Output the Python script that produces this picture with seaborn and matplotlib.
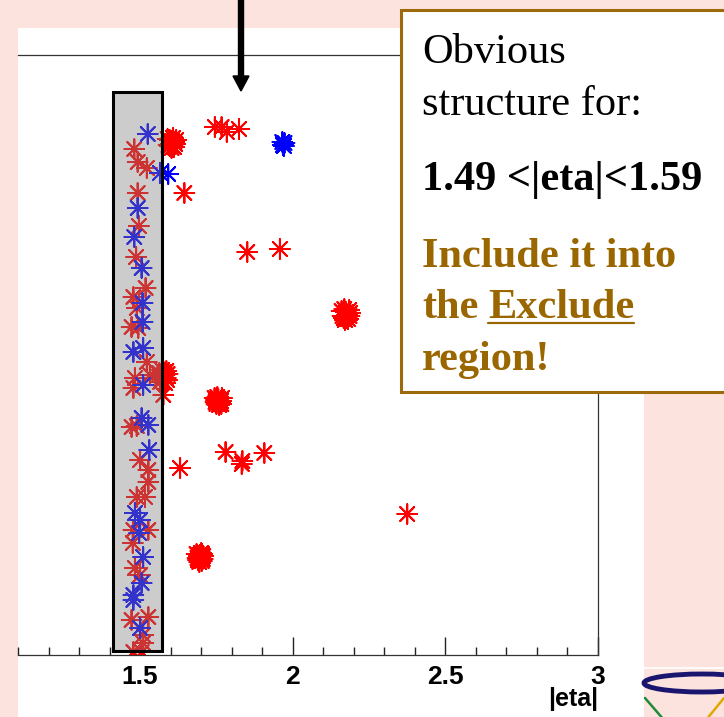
import matplotlib
matplotlib.use("Agg")
import matplotlib.pyplot as plt
import matplotlib.transforms as mtransforms
from matplotlib.patches import Rectangle, FancyArrow, Ellipse
from matplotlib.lines import Line2D
from matplotlib.ticker import FixedLocator, MultipleLocator
import numpy as np
import pandas as pd
import seaborn as sns

# ---------------- data ----------------
# isolated red hits (|eta|, arbitrary vertical coordinate)
red_eta = [1.481, 1.492, 1.522, 1.492, 1.496, 1.487, 1.518, 1.478, 1.489, 1.472,
           1.494, 1.522, 1.483, 1.532, 1.478, 1.472, 1.489, 1.500, 1.527, 1.527,
           1.489, 1.516, 1.478, 1.527, 1.476, 1.483, 1.500, 1.472, 1.527, 1.510,
           1.510, 1.478, 1.505,
           1.645, 1.631, 1.576, 1.745, 1.767, 1.784, 1.824, 1.851, 1.958,
           1.780, 1.835, 1.833, 1.907, 2.375]
red_y = [506, 493, 487, 462, 429, 398, 367, 358, 347, 328,
         327, 293, 277, 280, 267, 228, 229, 195, 185, 173,
         158, 158, 125, 125, 112, 87, 80, 35, 38, 20,
         12, 3, 3,
         462, 187, 260, 528, 528, 523, 526, 403, 406,
         203, 194, 191, 202, 141]

# dense red clusters
red_cluster_a_eta = [1.590, 1.597, 1.604, 1.611, 1.618, 1.600, 1.608, 1.593, 1.615, 1.603, 1.612, 1.597]
red_cluster_a_y = [516, 509, 514, 508, 515, 511, 517, 510, 511, 507, 513, 515]
red_cluster_b_eta = [1.563, 1.570, 1.577, 1.584, 1.590, 1.566, 1.574, 1.582, 1.588, 1.572, 1.580, 1.586]
red_cluster_b_y = [282, 276, 283, 277, 281, 273, 279, 272, 275, 285, 280, 284]
red_cluster_c_eta = [2.160, 2.167, 2.174, 2.181, 2.188, 2.163, 2.171, 2.178, 2.185, 2.169, 2.177, 2.186]
red_cluster_c_y = [344, 337, 343, 336, 342, 339, 335, 340, 345, 346, 337, 339]
red_cluster_d_eta = [1.744, 1.750, 1.756, 1.762, 1.768, 1.747, 1.753, 1.759, 1.765, 1.749, 1.757, 1.766]
red_cluster_d_y = [257, 251, 256, 252, 257, 253, 258, 250, 254, 255, 253, 251]
red_cluster_e_eta = [1.685, 1.690, 1.696, 1.702, 1.707, 1.688, 1.694, 1.700, 1.705, 1.692, 1.698, 1.703]
red_cluster_e_y = [101, 95, 100, 94, 99, 97, 93, 102, 96, 99, 97, 101]

# blue hits
blue_eta = [1.525, 1.565, 1.592, 1.492, 1.481, 1.505, 1.508, 1.508, 1.478, 1.510,
            1.510, 1.505, 1.527, 1.530, 1.483, 1.500, 1.497, 1.510, 1.505, 1.478,
            1.478, 1.500,
            1.966, 1.971, 1.973, 1.968]
blue_y = [521, 482, 481, 447, 418, 387, 352, 333, 303, 307,
          270, 237, 230, 205, 142, 135, 122, 98, 72, 60,
          55, 27,
          513, 509, 512, 510]

# highlighted |eta| band (drawn box) and its vertical extent
band_eta = [1.411, 1.572]
band_y = [4, 563]

x_major = [1.5, 2.0, 2.5, 3.0]
x_major_labels = ["1.5", "2", "2.5", "3"]
x_limits = [1.1, 3.0]
y_limits = [0, 600]

# ---------------- build table ----------------
all_red_eta = (red_eta + red_cluster_a_eta + red_cluster_b_eta + red_cluster_c_eta
               + red_cluster_d_eta + red_cluster_e_eta)
all_red_y = (red_y + red_cluster_a_y + red_cluster_b_y + red_cluster_c_y
             + red_cluster_d_y + red_cluster_e_y)
df = pd.DataFrame({
    "eta": all_red_eta + blue_eta,
    "y": all_red_y + blue_y,
    "kind": ["red"] * len(all_red_eta) + ["blue"] * len(blue_eta),
})

# ---------------- figure ----------------
W, H = 724, 717
sns.set_theme(style="white")
plt.rcParams["font.family"] = ["Liberation Sans", "DejaVu Sans"]

fig = plt.figure(figsize=(W / 100, H / 100), dpi=100, facecolor="#fde3dd")
px = mtransforms.Affine2D().scale(1 / W, 1 / H) + fig.transFigure  # pixel coords (origin bottom-left)

# white canvas behind the plot
fig.add_artist(Rectangle((18, 0), 626, 689, transform=px, facecolor="white",
                         edgecolor="none", zorder=0))

ax = fig.add_axes([18 / W, 62 / H, 580 / W, 600 / H])
ax.set_facecolor("white")

sns.scatterplot(data=df, x="eta", y="y", hue="kind",
                palette={"red": "#ff0000", "blue": "#0000ff"},
                marker=(8, 2, 0), s=200, linewidth=1.4, legend=False, ax=ax, zorder=2)

ax.add_patch(Rectangle((band_eta[0], band_y[0]), band_eta[1] - band_eta[0],
                       band_y[1] - band_y[0], facecolor=(0.5, 0.5, 0.5, 0.4),
                       edgecolor="black", linewidth=2.2, zorder=3))

ax.set_xlim(*x_limits)
ax.set_ylim(*y_limits)
ax.xaxis.set_major_locator(FixedLocator(x_major))
ax.set_xticklabels(x_major_labels)
ax.xaxis.set_minor_locator(MultipleLocator(0.1))
ax.tick_params(axis="x", which="both", bottom=True, top=False)
ax.tick_params(axis="x", which="major", direction="in", length=13, width=1.0,
               color="#222222", pad=7, labelsize=19, labelcolor="black")
ax.tick_params(axis="x", which="minor", direction="in", length=6, width=1.0,
               color="#222222")
for lab in ax.get_xticklabels():
    lab.set_fontweight("bold")
ax.tick_params(axis="y", left=False, labelleft=False)
ax.set_ylabel("")
ax.set_xlabel("|eta|", loc="right", fontsize=18, fontweight="bold", labelpad=-1,
              color="black")
ax.spines["left"].set_visible(False)
for s in ["top", "right", "bottom"]:
    ax.spines[s].set_color("#333333")
    ax.spines[s].set_linewidth(0.9)

# arrow from the top
fig.add_artist(FancyArrow(241, 722, 0, -96, width=5, head_width=16, head_length=15,
                          length_includes_head=True, transform=px, color="black",
                          zorder=6))

# annotation box
brown = "#996600"
fig.add_artist(Rectangle((401, H - 392), 340, 382, transform=px, facecolor="white",
                         edgecolor="#9c6a0a", linewidth=2.2, zorder=5))
serif = ["Liberation Serif", "DejaVu Serif"]
tx = 422
fig.text(tx, H - 63, "Obvious", transform=px, fontsize=30.5, family=serif,
         color="black", va="baseline", zorder=6)
fig.text(tx, H - 115, "structure for:", transform=px, fontsize=30.5, family=serif,
         color="black", va="baseline", zorder=6)
fig.text(tx, H - 190, "1.49 <|eta|<1.59", transform=px, fontsize=30.5, family=serif,
         fontweight="bold", color="black", va="baseline", zorder=6)
fig.text(tx, H - 267, "Include it into", transform=px, fontsize=30.5, family=serif,
         fontweight="bold", color=brown, va="baseline", zorder=6)
fig.text(tx, H - 318, "the", transform=px, fontsize=30.5, family=serif,
         fontweight="bold", color=brown, va="baseline", zorder=6)
t_ex = fig.text(488, H - 318, "Exclude", transform=px, fontsize=30.5, family=serif,
                fontweight="bold", color=brown, va="baseline", zorder=6)
fig.text(tx, H - 370, "region!", transform=px, fontsize=30.5, family=serif,
         fontweight="bold", color=brown, va="baseline", zorder=6)

fig.canvas.draw()
bb = t_ex.get_window_extent(renderer=fig.canvas.get_renderer())
fig.add_artist(Line2D([bb.x0, bb.x1], [H - 323, H - 323], transform=px,
                      color=brown, linewidth=1.6, zorder=6))

# small logo in the bottom-right corner
fig.add_artist(Line2D([644, 724], [H - 668, H - 668], transform=px, color="white",
                      linewidth=1.2, zorder=1))
fig.add_artist(Ellipse((702, H - 683), 116, 18, transform=px, facecolor="none",
                       edgecolor="#1a1670", linewidth=3.5, zorder=1))
fig.add_artist(Line2D([645, 664], [H - 698, H - 720], transform=px, color="#1f8a3a",
                      linewidth=1.8, zorder=1))
fig.add_artist(Line2D([724, 706], [H - 698, H - 720], transform=px, color="#e0a800",
                      linewidth=1.8, zorder=1))

fig.savefig("out.png", dpi=100, facecolor=fig.get_facecolor())
